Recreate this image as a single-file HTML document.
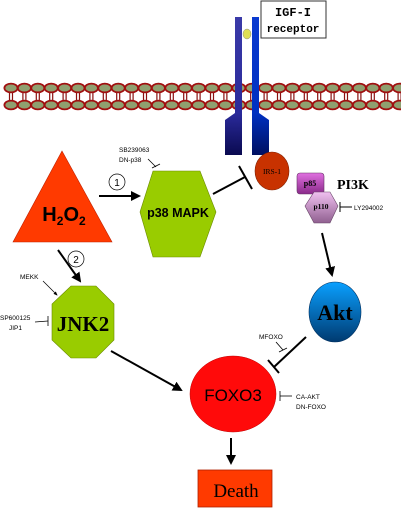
<!DOCTYPE html>
<html><head><meta charset="utf-8"><style>
html,body{margin:0;padding:0;background:#fff;width:401px;height:508px;overflow:hidden}
svg{display:block}
.s{font-family:"Liberation Sans",sans-serif}
.r{font-family:"Liberation Serif",serif}
</style></head><body>
<svg width="401" height="508" viewBox="0 0 401 508">
<defs>
<marker id="ah" viewBox="0 0 10 10" refX="8" refY="5" markerWidth="5" markerHeight="5" orient="auto"><path d="M0,0L10,5L0,10z" fill="#000"/></marker>
<marker id="ahs" viewBox="0 0 10 10" refX="8" refY="5" markerWidth="6" markerHeight="6" orient="auto"><path d="M0,1L10,5L0,9z" fill="#000"/></marker>
<linearGradient id="rl" x1="0" y1="0" x2="0" y2="1"><stop offset="0" stop-color="#3a3aa8"/><stop offset="0.7" stop-color="#2a2a9a"/><stop offset="1" stop-color="#0a0a50"/></linearGradient>
<linearGradient id="rr" x1="0" y1="0" x2="0" y2="1"><stop offset="0" stop-color="#0a3ad0"/><stop offset="0.7" stop-color="#0030c0"/><stop offset="1" stop-color="#001060"/></linearGradient>
<linearGradient id="akt" x1="0" y1="0" x2="0" y2="1"><stop offset="0" stop-color="#0aa0ff"/><stop offset="1" stop-color="#003a70"/></linearGradient>
<linearGradient id="p85" x1="0" y1="0" x2="0" y2="1"><stop offset="0" stop-color="#e070e0"/><stop offset="1" stop-color="#8a2a8a"/></linearGradient>
<linearGradient id="p110" x1="0" y1="0" x2="0" y2="1"><stop offset="0" stop-color="#f0c0f0"/><stop offset="1" stop-color="#906090"/></linearGradient>
</defs>
<g id="membrane"></g>
<g>
<path d="M235,17H242V155H225V120L235,113Z" fill="url(#rl)"/>
<path d="M252,17H259V113L269,120V155H252Z" fill="url(#rr)"/>
<ellipse cx="247" cy="34" rx="4" ry="5" fill="#dddd55" stroke="#888" stroke-width="0.5"/>
</g>
<g>
<rect x="261" y="1" width="65" height="37" fill="#fff" stroke="#333" stroke-width="1"/>
<text x="293" y="16" text-anchor="middle" font-family="Liberation Mono,monospace" font-weight="bold" font-size="12">IGF-I</text>
<text x="293" y="32" text-anchor="middle" font-family="Liberation Mono,monospace" font-weight="bold" font-size="11">receptor</text>
</g>
<g>
<ellipse cx="272" cy="171" rx="17" ry="19" fill="#c83200" stroke="#802000" stroke-width="0.6"/>
<text class="r" x="272" y="174" text-anchor="middle" font-size="7.5">IRS-1</text>
</g>
<g stroke="#000" stroke-width="2">
<line x1="213" y1="194" x2="245" y2="177"/><line x1="239" y1="166" x2="252" y2="189"/>
</g>
<g>
<rect x="297" y="173" width="27" height="21" rx="3" fill="url(#p85)" stroke="#663366" stroke-width="0.6"/>
<text class="r" x="310" y="186" text-anchor="middle" font-size="8" font-weight="bold">p85</text>
<path d="M305,206L314,192H330L338,206L330,223H314Z" fill="url(#p110)" stroke="#664466" stroke-width="0.6"/>
<text class="r" x="321" y="209" text-anchor="middle" font-size="7.5" font-weight="bold">p110</text>
<text class="r" x="337" y="189" font-size="14" font-weight="bold">PI3K</text>
<g stroke="#000" stroke-width="1"><line x1="340" y1="207" x2="352" y2="207"/><line x1="340" y1="202" x2="340" y2="212"/></g>
<text class="s" x="354" y="210" font-size="6.5">LY294002</text>
</g>
<g>
<path d="M62,151L112,242H13Z" fill="#ff3a00" stroke="#c02000" stroke-width="0.6"/>
<text class="s" x="64" y="221" text-anchor="middle" font-size="20" font-weight="bold">H<tspan font-size="12" dy="4">2</tspan><tspan dy="-4">O</tspan><tspan font-size="12" dy="4">2</tspan></text>
</g>
<g>
<line x1="99" y1="196" x2="139" y2="196" stroke="#000" stroke-width="2" marker-end="url(#ah)"/>
<circle cx="117" cy="182" r="8" fill="#fff" stroke="#000" stroke-width="0.7"/>
<text class="s" x="117" y="186" text-anchor="middle" font-size="10">1</text>
</g>
<g>
<path d="M153,171H200L216,212L200,257H153L140,212Z" fill="#99cc00" stroke="#6a8a00" stroke-width="0.6"/>
<text class="s" x="178" y="217" text-anchor="middle" font-size="12.5" font-weight="bold">p38 MAPK</text>
</g>
<g>
<text class="s" x="119" y="152" font-size="6.5">SB239063</text>
<text class="s" x="119" y="162" font-size="6.5">DN-p38</text>
<g stroke="#000" stroke-width="0.8"><line x1="148" y1="159" x2="156" y2="167"/><line x1="152" y1="168" x2="160" y2="164"/></g>
</g>
<g>
<line x1="58" y1="250" x2="80" y2="281" stroke="#000" stroke-width="2" marker-end="url(#ah)"/>
<circle cx="76" cy="259" r="8" fill="#fff" stroke="#000" stroke-width="0.7"/>
<text class="s" x="76" y="263" text-anchor="middle" font-size="10">2</text>
</g>
<g>
<path d="M71,286H96L114,304V340L96,358H71L52,340V304Z" fill="#99cc00" stroke="#6a8a00" stroke-width="0.6"/>
<text class="r" x="83" y="331" text-anchor="middle" font-size="21" font-weight="bold">JNK2</text>
</g>
<g>
<text class="s" x="20" y="279" font-size="6.5">MEKK</text>
<line x1="43" y1="281" x2="57" y2="295" stroke="#000" stroke-width="0.7" marker-end="url(#ahs)"/>
<text class="s" x="0" y="320" font-size="6.5">SP600125</text>
<text class="s" x="9" y="330" font-size="6.5">JIP1</text>
<g stroke="#000" stroke-width="0.8"><line x1="35" y1="322" x2="48" y2="321"/><line x1="48" y1="316" x2="48" y2="326"/></g>
</g>
<line x1="111" y1="351" x2="181" y2="390" stroke="#000" stroke-width="2" marker-end="url(#ah)"/>
<line x1="322" y1="233" x2="332" y2="275" stroke="#000" stroke-width="2" marker-end="url(#ah)"/>
<g>
<ellipse cx="335" cy="312" rx="26" ry="30" fill="url(#akt)" stroke="#003060" stroke-width="0.6"/>
<text class="r" x="335" y="320" text-anchor="middle" font-size="22" font-weight="bold">Akt</text>
</g>
<g stroke="#000" stroke-width="2">
<line x1="306" y1="337" x2="274" y2="367"/><line x1="268" y1="360" x2="279" y2="373"/>
</g>
<g>
<text class="s" x="259" y="339" font-size="6.5">MFOXO</text>
<g stroke="#000" stroke-width="0.8"><line x1="276" y1="342" x2="283" y2="350"/><line x1="279" y1="352" x2="287" y2="348"/></g>
</g>
<g>
<ellipse cx="233" cy="394" rx="43" ry="38" fill="#ff0a0a" stroke="#c00000" stroke-width="0.5"/>
<text class="s" x="233" y="401" text-anchor="middle" font-size="17">FOXO3</text>
</g>
<g>
<g stroke="#000" stroke-width="0.8"><line x1="280" y1="396" x2="292" y2="396"/><line x1="280" y1="391" x2="280" y2="401"/></g>
<text class="s" x="296" y="399" font-size="6.5">CA-AKT</text>
<text class="s" x="296" y="409" font-size="6.5">DN-FOXO</text>
</g>
<line x1="231" y1="438" x2="231" y2="463" stroke="#000" stroke-width="2" marker-end="url(#ah)"/>
<g>
<rect x="198" y="470" width="74" height="37" fill="#ff3a00" stroke="#b02000" stroke-width="0.8"/>
<text class="r" x="236" y="497" text-anchor="middle" font-size="19">Death</text>
</g>
</svg>
<script>
var g=document.getElementById('membrane');
var ns='http://www.w3.org/2000/svg';
for(var i=0;i<30;i++){
  var x=11+i*13.4;
  var st=document.createElementNS(ns,'path');
  st.setAttribute('d','M'+(x-1.5)+',92V101M'+(x+1.5)+',92V101');
  st.setAttribute('stroke','#8a1010');st.setAttribute('stroke-width','1.2');
  
  
  g.appendChild(st);
  [88,105].forEach(function(y){
    var e=document.createElementNS(ns,'ellipse');
    e.setAttribute('cx',x);e.setAttribute('cy',y);e.setAttribute('rx',6.6);e.setAttribute('ry',4.4);
    e.setAttribute('fill','#8fa070');e.setAttribute('stroke','#a01010');e.setAttribute('stroke-width','1.8');
    
    
    g.appendChild(e);
  });
}
</script>
</body></html>
